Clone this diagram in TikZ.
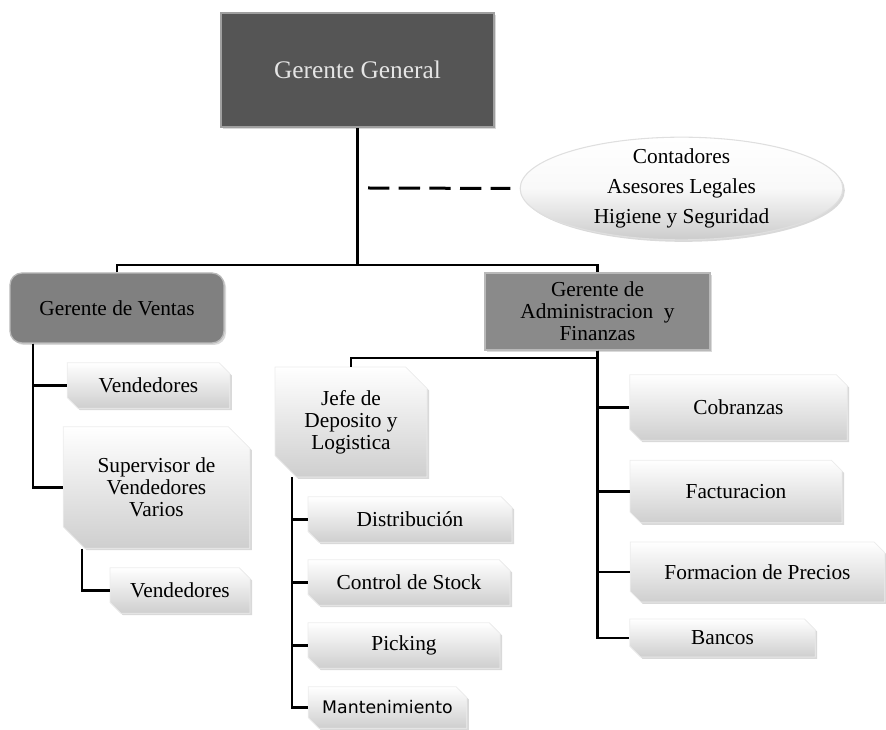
\documentclass[tikz,border=0pt]{standalone}
\usepackage{fontspec}
\setmainfont{Liberation Serif}
\newfontfamily\mantfont{DejaVu Sans}
\usetikzlibrary{shapes.misc,shapes.geometric,shadows}

\definecolor{ggfill}{RGB}{85,85,85}
\definecolor{gvfill}{RGB}{128,128,128}
\definecolor{gafill}{RGB}{138,138,138}

\tikzset{every picture/.style={line width=0.75pt}}
\tikzset{
  softshadow/.style={drop shadow={opacity=0.3,shadow xshift=1.5pt,shadow yshift=-1.5pt}},
  darkbox/.style={draw=gray!75, line width=1.2pt, fill=ggfill, text=white!90!black,
    font=\fontsize{19}{22}\selectfont, softshadow},
  midbox/.style={draw=gray!55, line width=1pt, fill=gvfill, align=center,
    font=\fontsize{16}{16.5}\selectfont, softshadow},
  lightbox/.style={chamfered rectangle, chamfered rectangle corners={north east,south west},
    chamfered rectangle sep=4pt, top color=white, bottom color=gray!38, draw=gray!15,
    line width=0.6pt, align=center, font=\fontsize{16}{16.5}\selectfont, softshadow},
  staff/.style={ellipse, inner sep=-3pt, top color=white, bottom color=gray!40,
    middle color=white!95!gray, draw=gray!25, line width=0.8pt, align=center,
    font=\fontsize{16}{22.5}\selectfont, softshadow},
  link/.style={line width=2pt},
  trunk/.style={line width=2.6pt},
  dashline/.style={line width=2.25pt, dash pattern=on 16pt off 7pt}
}

\begin{document}
\begin{tikzpicture}[x=0.75pt,y=0.75pt,yscale=-1]
	\useasboundingbox (0,0) rectangle (886,730);

	% Top level
	\node[darkbox, minimum width=204.75pt, minimum height=85.5pt] (gg) at (357.5,70) {Gerente General};
	\node[staff, minimum width=242pt, minimum height=77pt] (staff) at (681.5,188.5) {Contadores\\Asesores Legales\\Higiene y Seguridad};

	% Managers
	\node[midbox, rounded corners=9pt, minimum width=160.5pt, minimum height=52.5pt] (ventas) at (117,308) {Gerente de Ventas};
	\node[midbox, fill=gafill, minimum width=168.75pt, minimum height=57.75pt] (admin) at (597.5,311.5) {Gerente de\\Administracion\ \ y\\Finanzas};

	% Ventas branch
	\node[lightbox, minimum width=122pt, minimum height=34pt] (vend1) at (148.5,385.5) {Vendedores};
	\node[lightbox, chamfered rectangle sep=8pt, minimum width=140pt, minimum height=91pt] (super) at (156.5,487.5) {Supervisor de\\Vendedores\\Varios};
	\node[lightbox, minimum width=105pt, minimum height=34pt] (vend2) at (180,590.5) {Vendedores};

	% Deposito branch
	\node[lightbox, chamfered rectangle sep=8pt, minimum width=114pt, minimum height=82.5pt] (jefe) at (351,422) {Jefe de\\Deposito y\\Logistica};
	\node[lightbox, minimum width=153pt, minimum height=34pt] (distrib) at (410,519.5) {Distribución};
	\node[lightbox, minimum width=151.5pt, minimum height=34pt] (control) at (409,582.5) {Control de Stock};
	\node[lightbox, minimum width=144pt, minimum height=34pt] (picking) at (404,645.5) {Picking};
	\node[lightbox, minimum width=119pt, minimum height=31pt, font=\mantfont\fontsize{13}{15}\selectfont] (mant) at (387.5,707.5) {Mantenimiento};

	% Administracion branch
	\node[lightbox, minimum width=163pt, minimum height=49pt] (cobr) at (738.5,407.5) {Cobranzas};
	\node[lightbox, minimum width=159pt, minimum height=47pt] (fact) at (736,491.5) {Facturacion};
	\node[lightbox, minimum width=191pt, minimum height=45pt] (form) at (757.5,572) {Formacion de Precios};
	\node[lightbox, minimum width=139pt, minimum height=28.5pt] (bancos) at (722.5,638) {Bancos};

	% Connectors
	\coordinate (bus) at (357.5,265);
	\coordinate (abus) at (597.5,358);
	\coordinate (dashstart) at (368,188);
	\draw[trunk] (gg.south) -- (bus);
	\draw[dashline, shorten >=7pt] (dashstart) -- (staff.west);
	\draw[link] (ventas.north) |- (bus) -| (admin.north);

	\draw[link] (ventas.south) ++(-84,0) |- (vend1.west);
	\draw[link] (ventas.south) ++(-84,0) |- (super.west);
	\draw[link] (super.south) ++(-74.5,0) |- (vend2.west);

	\draw[link] (admin.south) -- (abus) -| (jefe.north);
	\draw[link] (jefe.south) ++(-59,0) |- (distrib.west);
	\draw[link] (jefe.south) ++(-59,0) |- (control.west);
	\draw[link] (jefe.south) ++(-59,0) |- (picking.west);
	\draw[link] (jefe.south) ++(-59,0) |- (mant.west);

	\draw[link] (admin.south) |- (cobr.west);
	\draw[link] (admin.south) |- (fact.west);
	\draw[link] (admin.south) |- (form.west);
	\draw[link] (admin.south) |- (bancos.west);

\end{tikzpicture}
\end{document}
